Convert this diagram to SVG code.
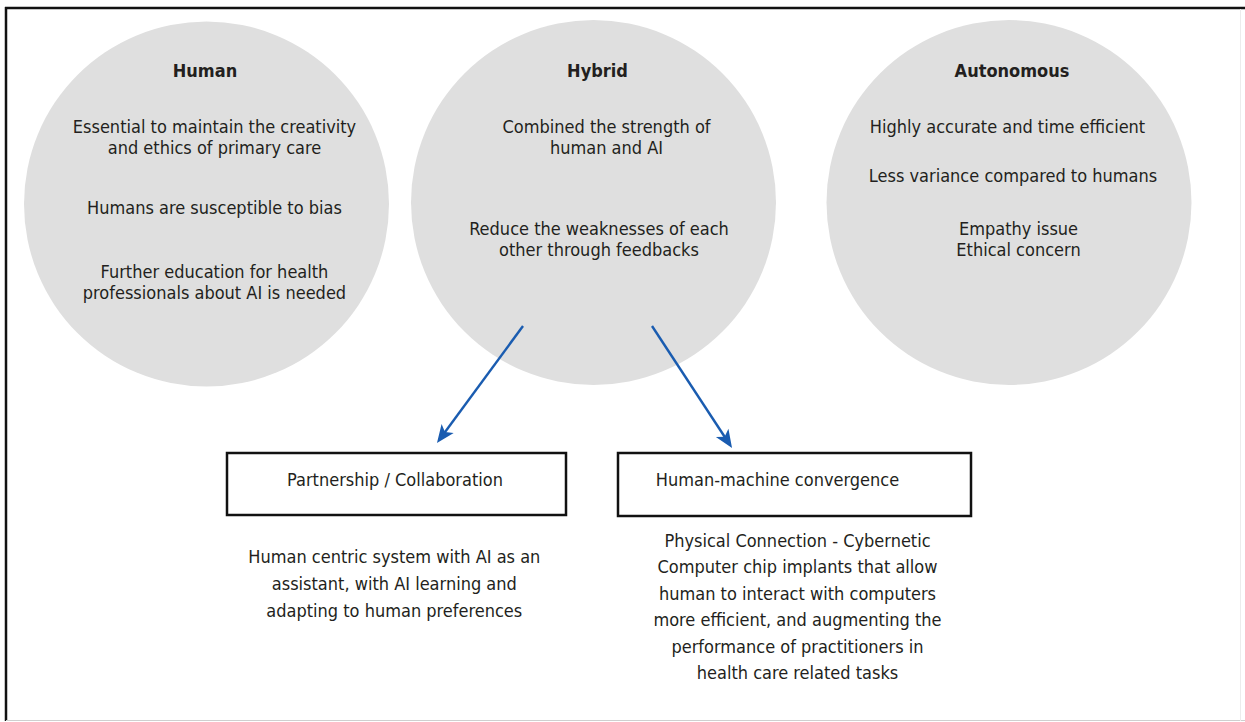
<svg xmlns="http://www.w3.org/2000/svg" width="1245" height="722" viewBox="0 0 1245 722">
<defs>
<style>
.c{fill:#dfdfdf}
.t{font-family:"DejaVu Sans Condensed","DejaVu Sans",sans-serif;font-stretch:condensed;font-size:18px;fill:#231f20;text-anchor:middle}
.b{font-weight:bold}
.box{fill:none;stroke:#111;stroke-width:2.5}
.arr{stroke:#1a5cb0;stroke-width:2.4;fill:none;marker-end:url(#ah)}
</style>
<marker id="ah" markerUnits="userSpaceOnUse" markerWidth="26" markerHeight="18" viewBox="0 0 26 18" refX="17" refY="9" orient="auto">
<path d="M26,9 L8,1.5 L12.5,9 L8,16.5 Z" fill="#1a5cb0"/>
</marker>
</defs>
<rect width="1245" height="722" fill="#fff"/>
<g id="frame">
<line x1="5" y1="8" x2="1245" y2="8" stroke="#111" stroke-width="2.5"/>
<line x1="6" y1="7" x2="6" y2="721" stroke="#111" stroke-width="2.5"/>
<line x1="6" y1="720.5" x2="1245" y2="720.5" stroke="#cfcfcf" stroke-width="1"/>
<line x1="1240.5" y1="9" x2="1240.5" y2="721" stroke="#ececec" stroke-width="1"/>
</g>
<g id="human">
<circle class="c" cx="206.5" cy="204" r="182.5"/>
<text class="t b" x="205" y="77">Human</text>
<text class="t" x="214.5" y="133">Essential to maintain the creativity</text>
<text class="t" x="214.5" y="154">and ethics of primary care</text>
<text class="t" x="214.5" y="214">Humans are susceptible to bias</text>
<text class="t" x="214.5" y="277.5">Further education for health</text>
<text class="t" x="214.5" y="298.5">professionals about AI is needed</text>
</g>
<g id="hybrid">
<circle class="c" cx="593.5" cy="202.5" r="182.5"/>
<text class="t b" x="597.5" y="77">Hybrid</text>
<text class="t" x="606.5" y="133">Combined the strength of</text>
<text class="t" x="606.5" y="154">human and AI</text>
<text class="t" x="599" y="235">Reduce the weaknesses of each</text>
<text class="t" x="599" y="255.5">other through feedbacks</text>
</g>
<g id="autonomous">
<circle class="c" cx="1009" cy="202.5" r="182.5"/>
<text class="t b" x="1012" y="77">Autonomous</text>
<text class="t" x="1007.5" y="133">Highly accurate and time efficient</text>
<text class="t" x="1013" y="182">Less variance compared to humans</text>
<text class="t" x="1018.5" y="234.5">Empathy issue</text>
<text class="t" x="1018.5" y="255.5">Ethical concern</text>
</g>
<g id="connectors">
<line class="arr" x1="523" y1="326" x2="442.3" y2="435.7"/>
<line class="arr" x1="652" y1="326" x2="727.1" y2="440.5"/>
</g>
<g id="partnership">
<rect class="box" x="227" y="453" width="339" height="62"/>
<text class="t" x="395" y="486">Partnership / Collaboration</text>
<text class="t" x="394.3" y="563">Human centric system with AI as an</text>
<text class="t" x="394.3" y="590">assistant, with AI learning and</text>
<text class="t" x="394.3" y="616.5">adapting to human preferences</text>
</g>
<g id="convergence">
<rect class="box" x="618" y="453" width="353" height="63"/>
<text class="t" x="777.5" y="486">Human-machine convergence</text>
<text class="t" x="797.5" y="546.5">Physical Connection - Cybernetic</text>
<text class="t" x="797.5" y="573">Computer chip implants that allow</text>
<text class="t" x="797.5" y="599.5">human to interact with computers</text>
<text class="t" x="797.5" y="626">more efficient, and augmenting the</text>
<text class="t" x="797.5" y="652.5">performance of practitioners in</text>
<text class="t" x="797.5" y="679">health care related tasks</text>
</g>
</svg>
